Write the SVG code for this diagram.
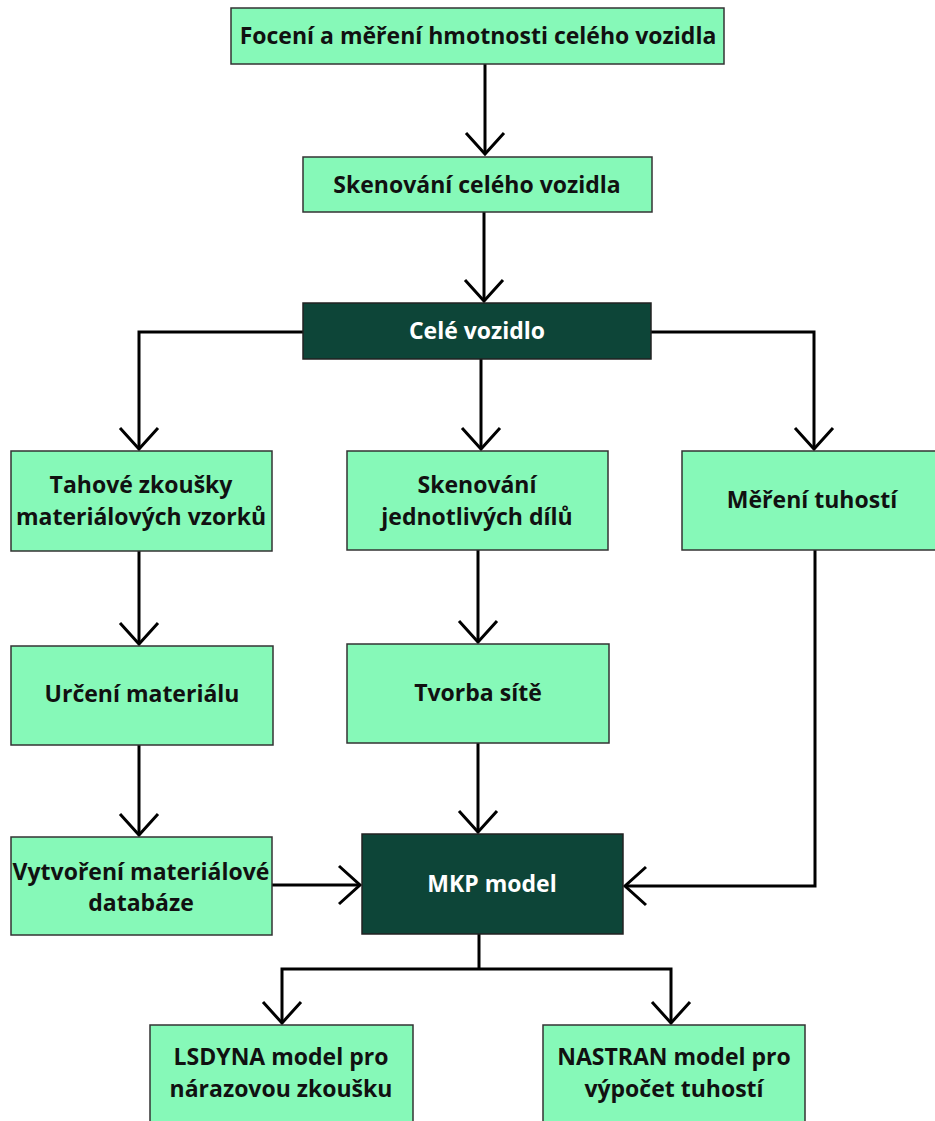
<svg xmlns="http://www.w3.org/2000/svg" width="935" height="1121" viewBox="0 0 935 1121">
<style>
.lb{fill:#86f9b8;stroke:#333;stroke-width:1.5}
.dk{fill:#0d4538;stroke:#222;stroke-width:1.5}
.t{font-family:"Open Sans","Liberation Sans",sans-serif;font-weight:700;font-size:23px;text-anchor:middle;fill:#111}
.tw{fill:#fff}
.c{fill:none;stroke:#000;stroke-width:3;marker-end:url(#ah)}
.cn{fill:none;stroke:#000;stroke-width:3}
</style>
<defs>
<marker id="ah" markerUnits="userSpaceOnUse" orient="auto" refX="0" refY="0" markerWidth="30" markerHeight="50" viewBox="-25 -25 30 50" overflow="visible">
<path d="M-21,-19 L0,0 L-21,19" fill="none" stroke="#000" stroke-width="3"/>
</marker>
</defs>
<rect width="935" height="1121" fill="#fff"/>
<g id="connectors">
<path class="c" d="M485,64 V154"/>
<path class="c" d="M484,212 V301"/>
<path class="c" d="M303,332 H139 V449"/>
<path class="c" d="M481,359 V449"/>
<path class="c" d="M651,332 H814 V449"/>
<path class="c" d="M139,551 V644"/>
<path class="c" d="M478,550 V642"/>
<path class="c" d="M139,745 V835"/>
<path class="c" d="M478,743 V832"/>
<path class="c" d="M272,885 H360"/>
<path class="c" d="M815,550 V886 H625"/>
<path class="cn" d="M479,934 V969"/>
<path class="c" d="M479,969 H282 V1023"/>
<path class="c" d="M479,969 H671 V1023"/>
</g>
<g id="n1"><rect class="lb" x="231" y="8" width="493" height="56"/><text class="t" x="478" y="44">Focení a měření hmotnosti celého vozidla</text></g>
<g id="n2"><rect class="lb" x="303" y="157" width="349" height="55"/><text class="t" x="477" y="193">Skenování celého vozidla</text></g>
<g id="n3"><rect class="dk" x="303" y="303" width="348" height="56"/><text class="t tw" x="477" y="339">Celé vozidlo</text></g>
<g id="n4"><rect class="lb" x="11" y="451" width="261" height="100"/><text class="t" x="141" y="493">Tahové zkoušky</text><text class="t" x="141" y="525">materiálových vzorků</text></g>
<g id="n5"><rect class="lb" x="347" y="451" width="261" height="99"/><text class="t" x="477" y="493">Skenování</text><text class="t" x="477" y="525">jednotlivých dílů</text></g>
<g id="n6"><rect class="lb" x="682" y="451" width="255" height="99"/><text class="t" x="812" y="508">Měření tuhostí</text></g>
<g id="n7"><rect class="lb" x="11" y="646" width="262" height="99"/><text class="t" x="142" y="702">Určení materiálu</text></g>
<g id="n8"><rect class="lb" x="347" y="644" width="262" height="99"/><text class="t" x="478" y="701">Tvorba sítě</text></g>
<g id="n9"><rect class="lb" x="11" y="837" width="261" height="98"/><text class="t" x="141" y="880">Vytvoření materiálové</text><text class="t" x="141" y="911">databáze</text></g>
<g id="n10"><rect class="dk" x="362" y="834" width="261" height="100"/><text class="t tw" x="492" y="892">MKP model</text></g>
<g id="n11"><rect class="lb" x="150" y="1025" width="263" height="100"/><text class="t" x="281" y="1065">LSDYNA model pro</text><text class="t" x="281" y="1097">nárazovou zkoušku</text></g>
<g id="n12"><rect class="lb" x="543" y="1025" width="262" height="100"/><text class="t" x="674" y="1065">NASTRAN model pro</text><text class="t" x="674" y="1097">výpočet tuhostí</text></g>
</svg>
